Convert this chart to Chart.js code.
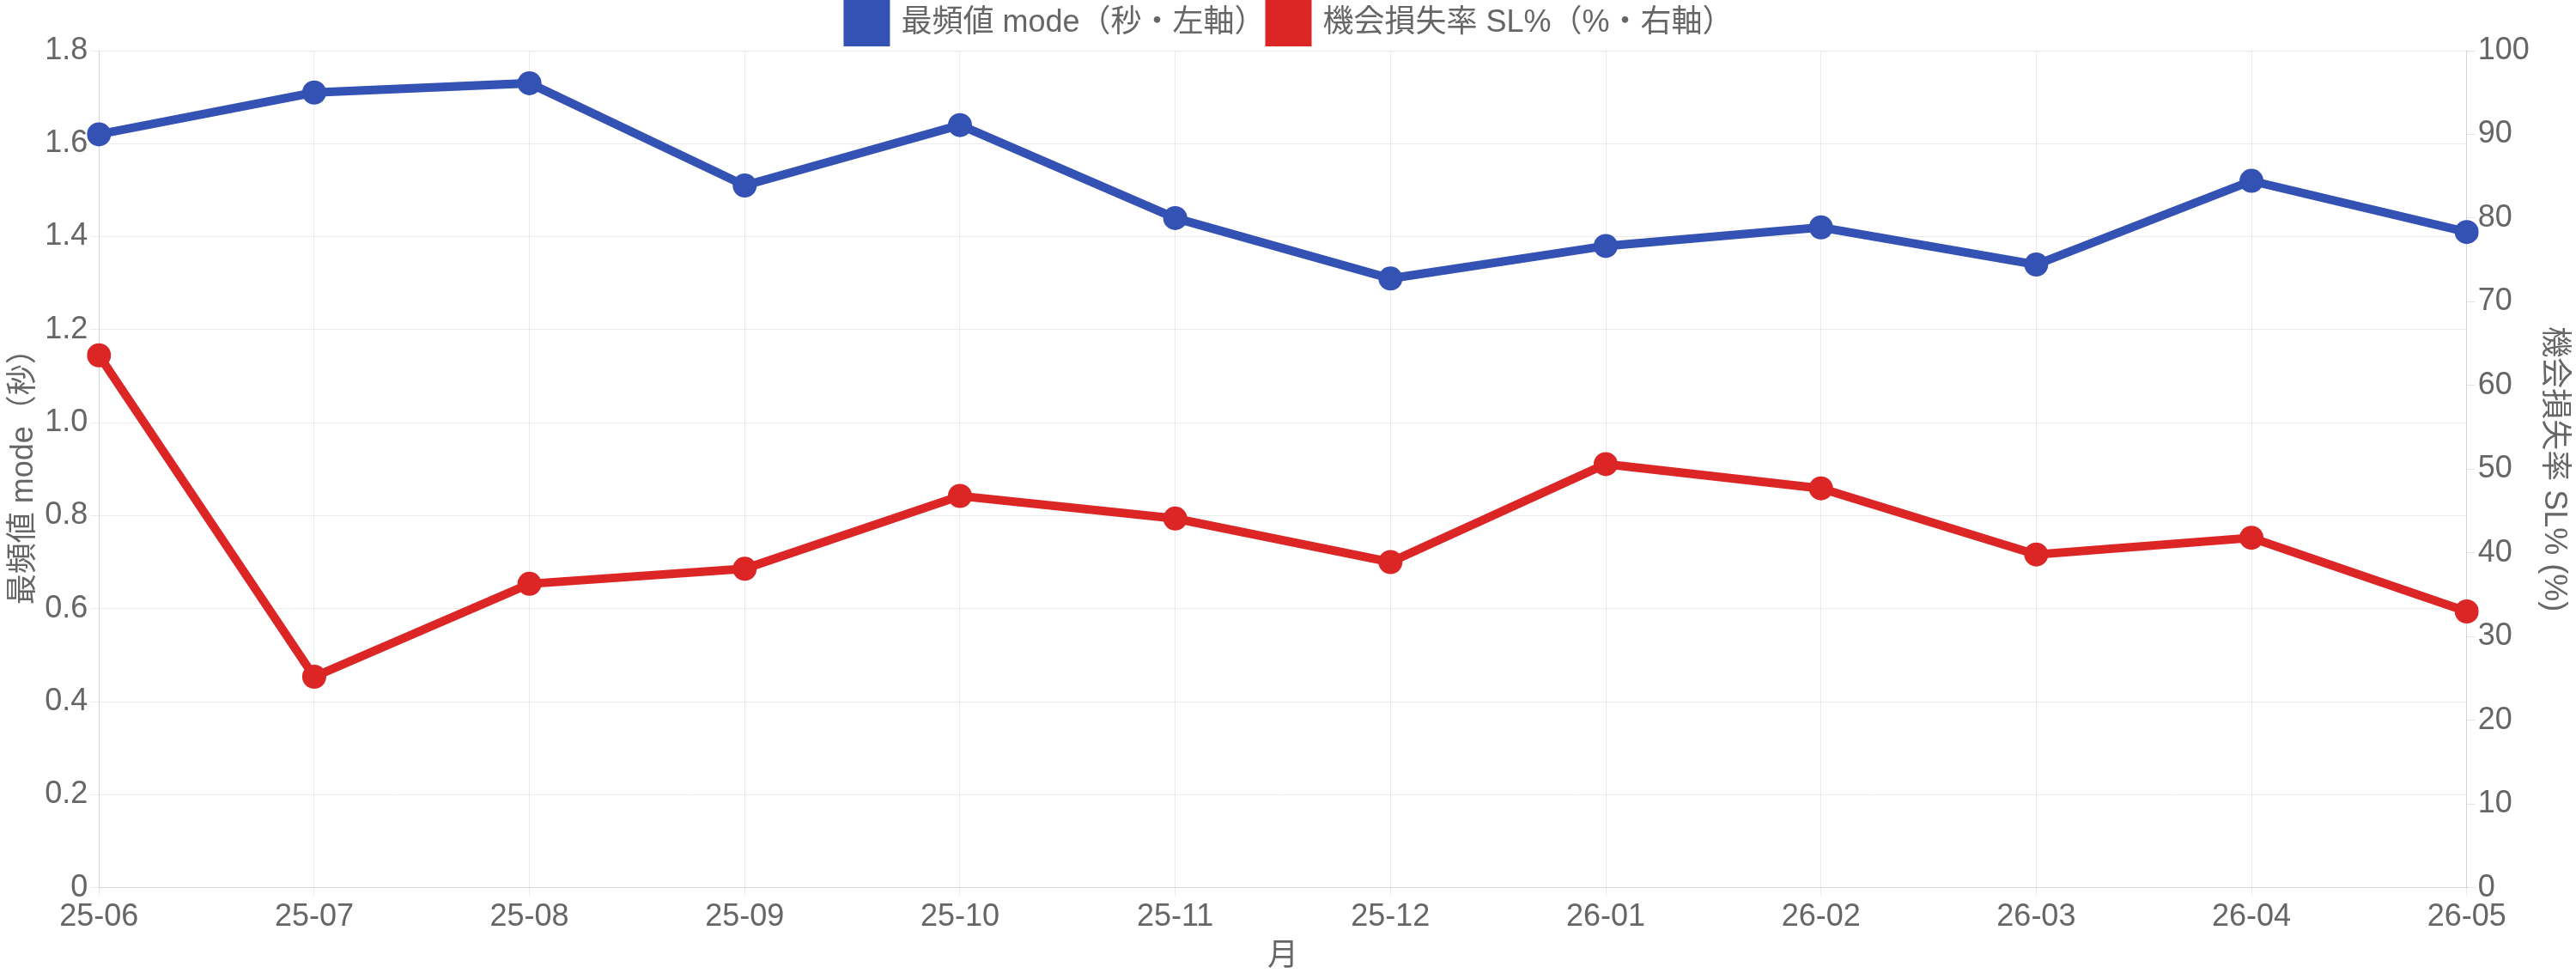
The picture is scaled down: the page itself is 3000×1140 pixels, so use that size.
<!DOCTYPE html>
<html>
<head>
<meta charset="utf-8">
<script src="https://cdn.jsdelivr.net/npm/chart.js@4.4.1/dist/chart.umd.min.js"></script>
<style>
    html, body { margin: 0; padding: 0; background: #fff; }
    .chart-wrap { width: 3000px; height: 1140px; position: relative; }
</style>
</head>
<body>
<div class="chart-wrap"><canvas id="modeChart"></canvas></div>
<script>
// months on the x axis
const months = ['25-06', '25-07', '25-08', '25-09', '25-10', '25-11', '25-12', '26-01', '26-02', '26-03', '26-04', '26-05'];

// mode in seconds (left axis)
const modeSeconds = [1.62, 1.71, 1.73, 1.51, 1.64, 1.44, 1.31, 1.38, 1.42, 1.34, 1.52, 1.41];

// opportunity loss rate SL% (right axis)
const lossRate = [63.6, 25.2, 36.3, 38.1, 46.8, 44.1, 38.9, 50.6, 47.7, 39.8, 41.8, 33.0];

const FONT = '"Liberation Sans", Arial, "Noto Sans CJK JP", sans-serif';
const BLUE = '#3451b4';
const RED = '#dc2626';

Chart.defaults.font.family = FONT;
Chart.defaults.font.size = 36;
Chart.defaults.color = '#666';

document.addEventListener('DOMContentLoaded', function() {
    const ctx = document.getElementById('modeChart').getContext('2d');
    new Chart(ctx, {
        type: 'line',
        data: {
            labels: months,
            datasets: [
                {
                    label: '最頻値 mode（秒・左軸）',
                    data: modeSeconds,
                    yAxisID: 'y',
                    borderColor: BLUE,
                    backgroundColor: BLUE,
                    borderWidth: 10,
                    pointRadius: 14,
                    pointBorderWidth: 0,
                    tension: 0
                },
                {
                    label: '機会損失率 SL%（%・右軸）',
                    data: lossRate,
                    yAxisID: 'y1',
                    borderColor: RED,
                    backgroundColor: RED,
                    borderWidth: 10,
                    pointRadius: 14,
                    pointBorderWidth: 0,
                    tension: 0
                }
            ]
        },
        options: {
            responsive: true,
            maintainAspectRatio: false,
            animation: false,
            layout: { padding: { left: 6, right: 0, top: 0, bottom: 4 } },
            plugins: {
                legend: {
                    position: 'top',
                    labels: {
                        boxWidth: 44,
                        boxHeight: 44,
                        padding: 5,
                        font: { size: 36 }
                    }
                },
                tooltip: { enabled: false }
            },
            scales: {
                x: {
                    offset: false,
                    title: { display: true, text: '月', font: { size: 36 }, padding: 0 },
                    ticks: { maxRotation: 0, font: { size: 36 } },
                    grid: { color: 'rgba(0,0,0,0.08)', tickLength: 10 }
                },
                y: {
                    position: 'left',
                    min: 0,
                    max: 1.8,
                    ticks: { stepSize: 0.2, font: { size: 36 },
                        callback: v => v === 0 ? '0' : v.toFixed(1) },
                    title: { display: true, text: '最頻値 mode（秒）', font: { size: 36 }, padding: 0 },
                    grid: { color: 'rgba(0,0,0,0.08)', tickLength: 10 }
                },
                y1: {
                    position: 'right',
                    min: 0,
                    max: 100,
                    ticks: { stepSize: 10, font: { size: 36 } },
                    title: { display: true, text: '機会損失率 SL% (%)', font: { size: 36 }, padding: 4 },
                    grid: { drawOnChartArea: false, tickLength: 10 }
                }
            }
        }
    });
});
</script>
</body>
</html>
